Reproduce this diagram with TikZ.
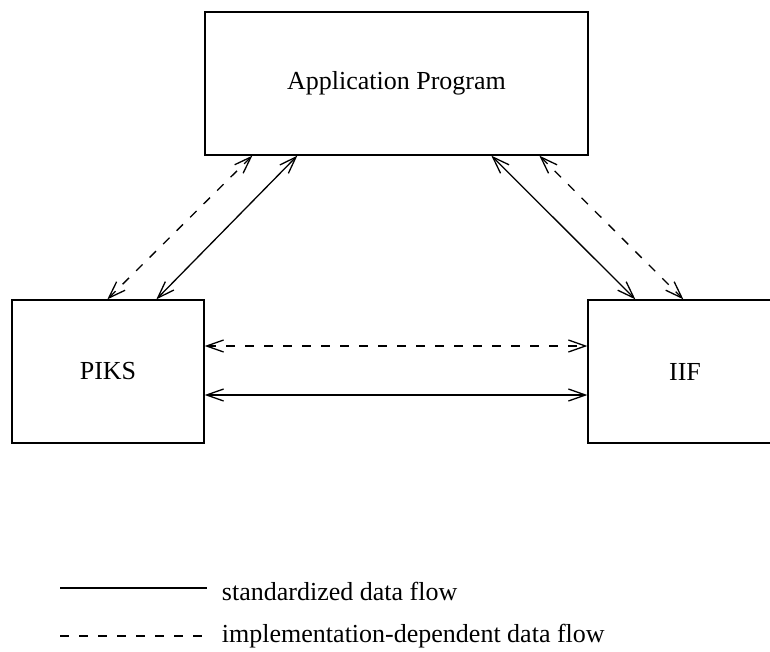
\documentclass[tikz,border=0pt]{standalone}
\usepackage{fontspec}
\setmainfont{Liberation Serif}
\usetikzlibrary{arrows.meta,positioning}
\tikzset{box/.style={draw,inner sep=0pt,minimum height=143pt,font=\fontsize{26}{31}\selectfont},
impl/.style={dash pattern=on 9pt off 10pt}}
\begin{document}
\begin{tikzpicture}[x=1pt,y=-1pt,line width=1.3pt]
\useasboundingbox (0,0) rectangle (770,651);
\node[box,minimum width=383pt] (AP) at (396.5,83.5) {Application Program};
\node[box,minimum width=192pt] (PK) at (108,371.5) {PIKS};
\node[box,minimum width=194pt] (IF) at (685,371.5) {IIF};
\coordinate (s1) at (60,588);
\coordinate (s2) at (207,588);
\coordinate (d1) at (60,636);
\coordinate (d2) at (207,636);
\node[anchor=base west,font=\fontsize{26}{31}\selectfont] (ls) at (218,600) {standardized data flow};
\node[anchor=base west,font=\fontsize{26}{31}\selectfont] (ld) at (218,642) {implementation-dependent data flow};
\path[<->,>={Straight Barb[length=17pt,width=12pt]}]
([xshift=48pt]AP.south west) edge[impl] ([xshift=96pt]PK.north west)
([xshift=93pt]AP.south west) edge ([xshift=145pt]PK.north west)
([xshift=287pt]AP.south west) edge ([xshift=48pt]IF.north west)
([xshift=335pt]AP.south west) edge[impl] ([xshift=96pt]IF.north west)
([yshift=25.5pt]PK.east) edge[impl] ([yshift=25.5pt]IF.west)
([yshift=-23.5pt]PK.east) edge ([yshift=-23.5pt]IF.west);
\draw (s1) -- (s2);
\draw[impl] (d1) -- (d2);
\end{tikzpicture}
\end{document}
